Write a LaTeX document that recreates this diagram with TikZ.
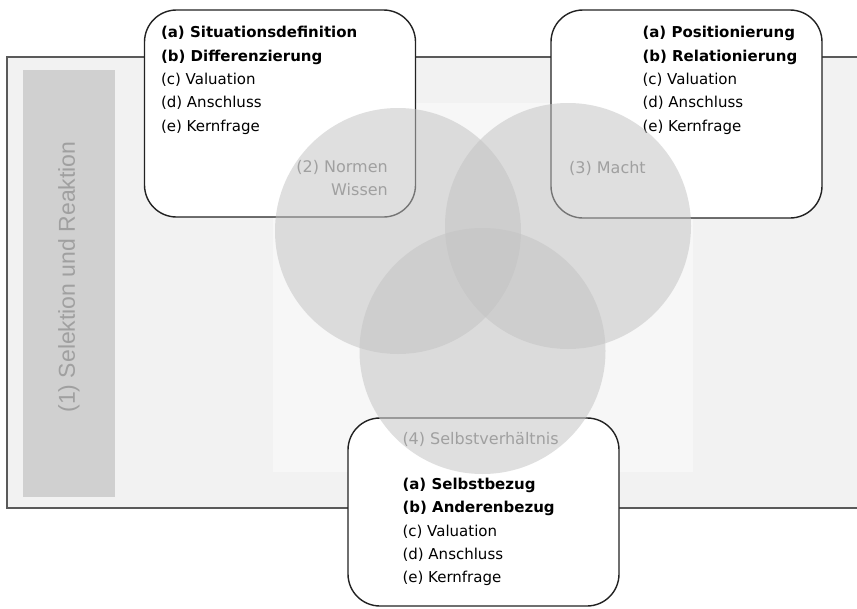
\documentclass[tikz,border=0pt]{standalone}
\usepackage{fontspec}
\setmainfont{DejaVu Sans}
\newfontfamily\barfont{Liberation Sans}
\usetikzlibrary{positioning}

\definecolor{framegray}{HTML}{5A5A5A}
\definecolor{outerbg}{HTML}{F2F2F2}
\definecolor{innerbg}{HTML}{F7F7F7}
\definecolor{barfill}{HTML}{D0D0D0}
\definecolor{labelgray}{HTML}{A0A0A0}
\definecolor{boxline}{HTML}{222222}
\definecolor{circfill}{HTML}{C3C3C3}

\begin{document}
\begin{tikzpicture}[x=1pt,y=-1pt]
\tikzset{
    framebox/.style={draw=framegray, line width=2pt, fill=outerbg},
    bar/.style={fill=barfill, inner sep=0pt, minimum width=92pt, minimum height=427pt},
    box/.style={draw=boxline, line width=1.4pt, fill=white, rounded corners=32pt,
        inner sep=0pt, minimum width=271pt},
    circ/.style={circle, fill=circfill, fill opacity=0.52, inner sep=0pt, minimum size=246pt},
    list/.style={anchor=north west, inner sep=0pt, align=left,
        font=\fontsize{15}{23.3}\selectfont},
    circlabel/.style={inner sep=0pt, text=labelgray, font=\fontsize{16}{23}\selectfont}
}
\clip (0,0) rectangle (857,608);
% Frame
\draw[framebox] (7,57) rectangle (880,508);
\node[bar] (sel) at (69,283.5){};
\node[rotate=90, inner sep=0pt, text=labelgray, font=\barfont\fontsize{23}{26}\selectfont]
    (sellabel) at (69,277){(1) Selektion und Reaktion};
\fill[innerbg] (273,103) rectangle (693,472);

% Boxes
\node[box, minimum height=207pt] (situation) at (280,113.5){};
\node[box, minimum height=208pt] (macht) at (686.5,114){};
\node[box, minimum height=188pt] (selbst) at (483.5,512){};

\node[list] (situationtext) at ([shift={(17,17)}]situation.north west)
    {\textbf{(a) Situationsdefinition}\\\textbf{(b) Differenzierung}\\(c) Valuation\\(d) Anschluss\\(e) Kernfrage};
\node[list] (machttext) at ([shift={(92,17)}]macht.north west)
    {\textbf{(a) Positionierung}\\\textbf{(b) Relationierung}\\(c) Valuation\\(d) Anschluss\\(e) Kernfrage};
\node[list] (selbsttext) at ([shift={(55,60.5)}]selbst.north west)
    {\textbf{(a) Selbstbezug}\\\textbf{(b) Anderenbezug}\\(c) Valuation\\(d) Anschluss\\(e) Kernfrage};

% Circles
\node[circ] (normenc) at (398,231){};
\node[circ] (machtc) at (568,226){};
\node[circ] (selbstc) at (482.5,351){};

\node[circlabel, anchor=north east, align=right] (normenlabel) at ([shift={(-10,-71)}]normenc.center){(2) Normen\\Wissen};
\node[circlabel, anchor=base west] (machtlabel) at ([shift={(1,-53)}]machtc.center){(3) Macht};
\node[circlabel, anchor=base west] (selbstlabel) at ([shift={(55,27)}]selbst.north west){(4) Selbstverhältnis};
\end{tikzpicture}
\end{document}
